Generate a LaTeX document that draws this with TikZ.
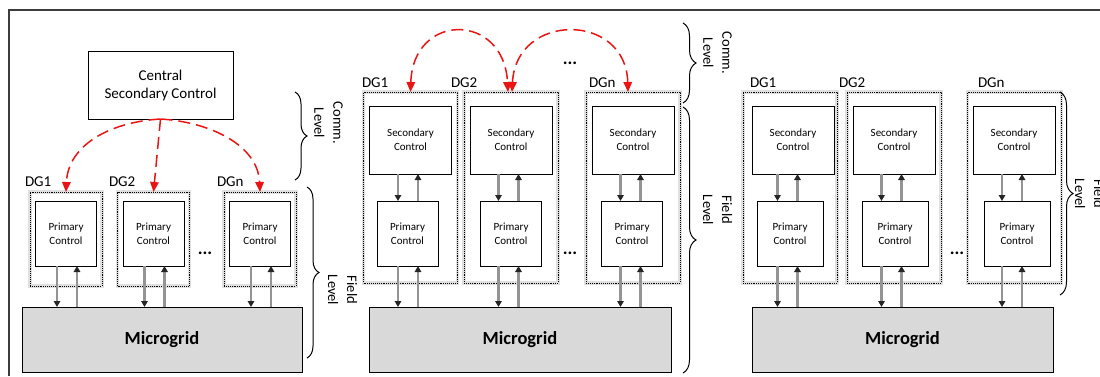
\documentclass[tikz,border=0pt]{standalone}
\usepackage{fontspec}
\setmainfont{Carlito}
\usetikzlibrary{arrows.meta,decorations.pathreplacing,calc}
\newcommand\fsz[2]{\fontsize{#1}{#2}\selectfont}
\definecolor{commred}{RGB}{235,20,20}
\definecolor{framegray}{RGB}{60,60,60}
\begin{document}
\begin{tikzpicture}[x=1pt,y=-1pt,
 every node/.style={inner sep=0pt,outer sep=0pt},
 blk/.style={draw=black,line width=1pt,fill=white,align=center,font=\fsz{11}{14}},
 cscbox/.style={blk,font=\fsz{15}{18}},
 dg/.style={draw=black,line width=0.9pt,densely dotted,preaction={draw=black!12,line width=3.5pt,solid}},
 grid/.style={draw=black,line width=1pt,fill=black!15,font=\bfseries\fsz{18.5}{22}},
 lbl/.style={anchor=base west,font=\fsz{15}{18}},
 dots/.style={font=\bfseries\fsz{18}{20}},
 lvl/.style={rotate=-90,align=center,font=\fsz{14.5}{19}},
 sig/.style={draw=black!42,line width=2.2pt,-{Triangle[length=6pt,width=6.5pt,color=black!85]}},
 comm/.style={draw=commred,line width=1.5pt,dash pattern=on 12pt off 6pt,-{Triangle[length=10pt,width=8.5pt]}},
 commboth/.style={draw=commred,line width=1.5pt,dash pattern=on 12pt off 6pt,{Triangle[length=10pt,width=8.5pt]}-{Triangle[length=10pt,width=8.5pt]}},
 brc/.style={draw=black,line width=1pt,decorate,decoration={brace,amplitude=#1}},
 frame/.style={draw=framegray,line width=1.3pt}
]
\useasboundingbox (0,0) rectangle (1100,376);
\draw[frame] (9,376) -- (9,10) -- (1100,10);

% ---------- Panel 1 ----------
\node[cscbox,minimum width=145pt,minimum height=68pt] (CSC) at (160.5,85) {Central\\Secondary Control};
\node[grid,minimum width=280pt,minimum height=65pt] (MG1) at (162,339.5) {Microgrid};
\foreach \n/\c in {11/66,12/153.5,1n/260}{
  \node[dg,minimum width=72pt,minimum height=94pt] (D\n) at (\c,239) {};
  \node[blk,minimum width=61pt,minimum height=65pt] (P\n) at (\c,233.5) {Primary\\Control};
  \coordinate (A\n) at (\c-9,0);
  \coordinate (B\n) at (\c+11,0);
  \draw[sig] (A\n |- P\n.south) -- (A\n |- MG1.north);
  \draw[sig] (B\n |- MG1.north) -- (B\n |- P\n.south);
}
\node[lbl] (L11) at (25,186) {DG1};
\node[lbl] (L12) at (109,186) {DG2};
\node[lbl] (L1n) at (217,186) {DGn};
\node[dots] (dots1) at (205,253) {...};
\draw[comm] (CSC.south) .. controls (110,122) and (68,145) .. (D11.north);
\draw[comm] (CSC.south) -- (D12.north);
\draw[comm] (CSC.south) .. controls (210,122) and (258,145) .. (D1n.north);
\draw[brc=12pt] (295,92) -- (295,180);
\draw[brc=12pt] (307,187) -- (307,358);
\node[lvl] (cl1) at (328.5,123) {Comm.\\Level};
\node[lvl] (fl1) at (342.5,290) {Field\\Level};

% ---------- Panels 2 and 3 ----------
\node[grid,minimum width=302pt,minimum height=65pt] (MG2) at (520,339.5) {Microgrid};
\node[grid,minimum width=301pt,minimum height=65pt] (MG3) at (902.5,339.5) {Microgrid};
\foreach \n/\d/\s/\p/\w/\m in {21/410.5/410.5/407.5/61/MG2, 22/511/511/511/61/MG2, 2n/633/633/632/61/MG2,
                              31/790/793/790/66/MG3, 32/894/894/895/66/MG3, 3n/1014.5/1014/1017/66/MG3}{
  \node[dg,minimum width=94pt,minimum height=191pt] (D\n) at (\d,187.5) {};
  \node[blk,minimum width=82pt,minimum height=68pt] (S\n) at (\s,140) {Secondary\\Control};
  \node[blk,minimum width=\w pt,minimum height=65pt] (P\n) at (\p,233.5) {Primary\\Control};
  \coordinate (A\n) at (\d-12.5,0);
  \coordinate (B\n) at (\d+7.5,0);
  \draw[sig] (A\n |- S\n.south) -- (A\n |- P\n.north);
  \draw[sig] (B\n |- P\n.north) -- (B\n |- S\n.south);
  \draw[sig] (A\n |- P\n.south) -- (A\n |- \m.north);
  \draw[sig] (B\n |- \m.north) -- (B\n |- P\n.south);
}
\node[lbl] (L21) at (362,87) {DG1};
\node[lbl] (L22) at (451,87) {DG2};
\node[lbl] (L2n) at (589,87) {DGn};
\node[lbl] (L31) at (750,87) {DG1};
\node[lbl] (L32) at (839,87) {DG2};
\node[lbl] (L3n) at (978,87) {DGn};
\node[dots] (dots2a) at (570,63) {...};
\node[dots] (dots2b) at (570,253) {...};
\node[dots] (dots3) at (957,253) {...};
\coordinate (c22l) at ([xshift=-3pt]D22.north);
\coordinate (c22r) at ([xshift=1pt]D22.north);
\coordinate (c2n) at ([xshift=-5pt]D2n.north);
\draw[commboth] (D21.north) .. controls (413,12) and (504,12) .. (c22l);
\draw[commboth] (c22r) .. controls (516,12) and (626,12) .. (c2n);
\draw[brc=13pt] (683,23) -- (683,103);
\draw[brc=13pt] (683,107) -- (683,373);
\node[lvl] (cl2) at (717.5,53) {Comm.\\Level};
\node[lvl] (fl2) at (717.5,210) {Field\\Level};
\draw[brc=13pt] (1060,92) -- (1060,295);
\node[lvl] (fl3) at (1089.5,194) {Field\\Level};
\end{tikzpicture}
\end{document}
